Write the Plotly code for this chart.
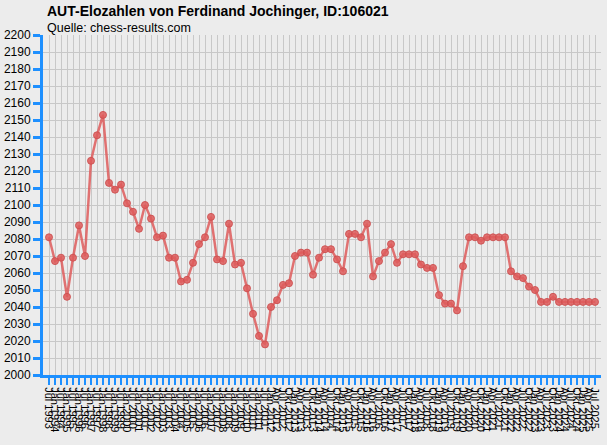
import plotly.graph_objects as go

# half-yearly lists first, quarterly from 2012 on
labels_half = ["Jul 1993", "Jan 1994", "Jul 1994", "Jan 1995", "Jul 1995", "Jan 1996",
               "Jul 1996", "Jan 1997", "Jul 1997", "Jan 1998", "Jul 1998", "Jan 1999",
               "Jul 1999", "Jan 2000", "Jul 2000", "Jan 2001", "Jul 2001", "Jan 2002",
               "Jul 2002", "Jan 2003", "Jul 2003", "Jan 2004", "Jul 2004", "Jan 2005",
               "Jul 2005", "Jan 2006", "Jul 2006", "Jan 2007", "Jul 2007", "Jan 2008",
               "Jul 2008", "Jan 2009", "Jul 2009", "Jan 2010", "Jul 2010", "Jan 2011",
               "Jul 2011", "Jan 2012"]
labels_quarter = ["Apr 2012", "Jul 2012", "Okt 2012",
                  "Jan 2013", "Apr 2013", "Jul 2013", "Okt 2013",
                  "Jan 2014", "Apr 2014", "Jul 2014", "Okt 2014",
                  "Jan 2015", "Apr 2015", "Jul 2015", "Okt 2015",
                  "Jan 2016", "Apr 2016", "Jul 2016", "Okt 2016",
                  "Jan 2017", "Apr 2017", "Jul 2017", "Okt 2017",
                  "Jan 2018", "Apr 2018", "Jul 2018", "Okt 2018",
                  "Jan 2019", "Apr 2019", "Jul 2019", "Okt 2019",
                  "Jan 2020", "Apr 2020", "Jul 2020", "Okt 2020",
                  "Jan 2021", "Apr 2021", "Jul 2021", "Okt 2021",
                  "Jan 2022", "Apr 2022", "Jul 2022", "Okt 2022",
                  "Jan 2023", "Apr 2023", "Jul 2023", "Okt 2023",
                  "Jan 2024", "Apr 2024", "Jul 2024", "Okt 2024",
                  "Jan 2025", "Apr 2025", "Jul 2025"]
labels = labels_half + labels_quarter

elo = [2081, 2067, 2069, 2046, 2069, 2088, 2070, 2126, 2141, 2153,
       2113, 2109, 2112, 2101, 2096, 2086, 2100, 2092, 2081, 2082,
       2069, 2069, 2055, 2056, 2066, 2077, 2081, 2093, 2068, 2067,
       2089, 2065, 2066, 2051, 2036, 2023, 2018, 2040, 2044, 2053,
       2054, 2070, 2072, 2072, 2059, 2069, 2074, 2074, 2068, 2061,
       2083, 2083, 2081, 2089, 2058, 2067, 2072, 2077, 2066, 2071,
       2071, 2071, 2065, 2063, 2063, 2047, 2042, 2042, 2038, 2064,
       2081, 2081, 2079, 2081, 2081, 2081, 2081, 2061, 2058, 2057,
       2052, 2050, 2043, 2043, 2046, 2043, 2043, 2043, 2043, 2043,
       2043, 2043]

idx = list(range(len(elo)))
BLUE = "#1e90ff"
BG = "#ececec"
GRID = "#c8c8c8"
FONT = "Liberation Sans, Arial"

fig = go.Figure()
fig.add_trace(go.Scatter(x=idx, y=elo, mode="lines+markers",
                         line=dict(color="rgba(222,92,92,0.85)", width=2.5),
                         marker=dict(size=7, color="rgba(222,92,92,0.85)",
                                     line=dict(color="rgba(205,80,80,0.9)", width=1)),
                         hovertext=labels, hoverinfo="text+y"))

fig.update_xaxes(range=[-1, len(elo)], tickmode="array", tickvals=idx, ticktext=labels,
                 tickangle=90, tickfont=dict(size=11, color="black", family=FONT),
                 showgrid=True, gridcolor=GRID, gridwidth=1.2,
                 showline=True, linecolor=BLUE, linewidth=3,
                 ticks="outside", ticklen=7, tickwidth=2, tickcolor=BLUE,
                 zeroline=False, automargin=False)
fig.update_yaxes(range=[2000, 2200], dtick=10,
                 tickfont=dict(size=12, color="black", family=FONT),
                 showgrid=True, gridcolor=GRID, gridwidth=1.2,
                 showline=True, linecolor=BLUE, linewidth=3,
                 ticks="outside", ticklen=7, tickwidth=3, tickcolor=BLUE,
                 zeroline=False, automargin=False)

fig.add_annotation(text="<b>AUT-Elozahlen von Ferdinand Jochinger, ID:106021</b>",
                   xref="paper", yref="paper", x=0.004, y=1.071,
                   xanchor="left", yanchor="middle", showarrow=False,
                   font=dict(size=14, color="black", family=FONT))
fig.add_annotation(text="Quelle: chess-results.com",
                   xref="paper", yref="paper", x=0.004, y=1.022,
                   xanchor="left", yanchor="middle", showarrow=False,
                   font=dict(size=12.5, color="black", family=FONT))

fig.update_layout(width=607, height=445,
                  margin=dict(l=43, r=6, t=35, b=70),
                  paper_bgcolor=BG, plot_bgcolor=BG,
                  showlegend=False)

# page body has an 8px default margin, drop it so the chart sits at 0,0
fig.write_html("out.html", config={"displayModeBar": False},
               post_script="document.body.style.margin='0';")
